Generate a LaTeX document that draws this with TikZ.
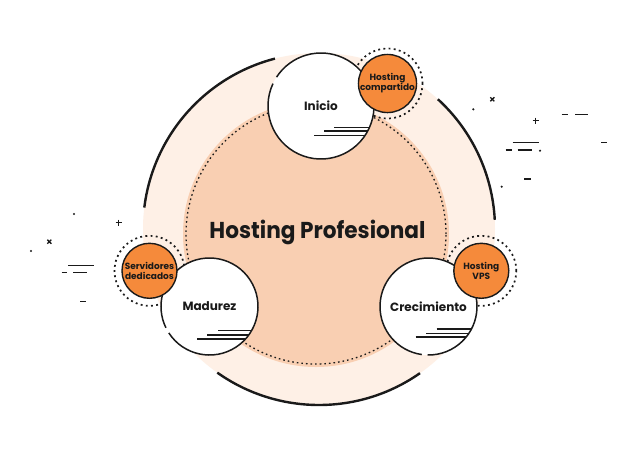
\documentclass[tikz,border=0pt]{standalone}
\usepackage{fontspec}
\setmainfont{Poppins}
\definecolor{outerc}{HTML}{FEF0E6}
\definecolor{innerc}{HTML}{F9CFB2}
\definecolor{orangec}{HTML}{F58A3B}
\definecolor{inkc}{HTML}{1A1A1A}
\begin{document}
\begin{tikzpicture}[x=1pt,y=-1pt,
  ring/.style={draw=inkc, line width=1.7pt, dash pattern=on 1.9pt off 3.3pt},
  innerdots/.style={draw=inkc, line width=1.3pt, dash pattern=on 1.6pt off 3pt},
  bigarc/.style={draw=inkc, line width=2.4pt},
  border/.style={draw=inkc, line width=1.5pt},
  stepline/.style={draw=inkc, line width=1.3pt},
  stage/.style={circle, fill=white, inner sep=0pt, font=\bfseries\fontsize{12}{14}\selectfont, text=inkc},
  tag/.style={circle, fill=orangec, draw=inkc, line width=1.4pt, inner sep=0pt, minimum size=55pt, align=center, font=\bfseries\fontsize{9}{10}\selectfont, text=inkc},
  deco/.style={draw=inkc, line width=1.3pt},
  decodot/.style={fill=inkc},
]
\useasboundingbox (0,0) rectangle (640,448);
\fill[white] (0,0) rectangle (640,448);
% outer light disc and black arcs
\coordinate (oc) at (319,229);
\fill[outerc] (oc) circle[radius=176pt];
\draw[bigarc] (oc) ++(104.5:176pt) arc[start angle=104.5, end angle=173, radius=176pt];
\draw[bigarc] (oc) ++(3:176pt) arc[start angle=3, end angle=47.5, radius=176pt];
\draw[bigarc] (oc) ++(234.7:176pt) arc[start angle=234.7, end angle=305, radius=176pt];
% inner peach disc
\coordinate (ic) at (316,234);
\fill[innerc] (ic) circle[radius=133pt];
\draw[innerdots] (ic) circle[radius=130pt];
% tag centres
\coordinate (compc) at (387.5,83.5);
\coordinate (vpsc) at (481.3,270.8);
\coordinate (servc) at (149.5,270.8);
\draw[ring] (compc) circle[radius=35pt];
\draw[ring] (vpsc) circle[radius=35pt];
\draw[ring] (servc) circle[radius=35pt];
% stage circles
\node[stage, minimum size=106pt] (ini) at (321,106) {Inicio};
\node[stage, minimum size=97pt] (mad) at (209.5,306.5) {Madurez};
\node[stage, minimum size=97pt] (cre) at (428.5,306.5) {Crecimiento};
\begin{scope}
  \clip (ini.center) circle[radius=53pt];
  \draw[stepline] (334,127.3) -- (400,127.3);
  \draw[stepline] (324,131) -- (400,131);
  \draw[stepline] (314,135.3) -- (400,135.3);
\end{scope}
\begin{scope}
  \clip (mad.center) circle[radius=48.5pt];
  \draw[stepline] (218,330.7) -- (280,330.7);
  \draw[stepline] (207,335) -- (280,335);
  \draw[stepline] (197,339) -- (280,339);
\end{scope}
\begin{scope}
  \clip (cre.center) circle[radius=48.5pt];
  \draw[stepline] (436.7,329) -- (500,329);
  \draw[stepline] (426,333.3) -- (500,333.3);
  \draw[stepline] (415.7,337) -- (500,337);
\end{scope}
\draw[border] (ini.center) ++(155:53pt) arc[start angle=155, end angle=507, radius=53pt];
\draw[border] (mad.center) ++(213:48.5pt) arc[start angle=213, end angle=566, radius=48.5pt];
\draw[border] (cre.center) ++(269:48.5pt) arc[start angle=269, end angle=622, radius=48.5pt];
% tags
\node[tag] (comp) at (compc) {Hosting\\compartido};
\node[tag] (vps) at (vpsc) {Hosting\\VPS};
\node[tag] (serv) at (servc) {Servidores\\dedicados};
% title
\node[font=\bfseries\fontsize{23}{26}\selectfont, text=inkc] (title) at (317.5,232) {\scalebox{0.94}[1]{Hosting Profesional}};
% decorations right
\fill[decodot] (473.3,109.3) circle[radius=1.2pt];
\draw[deco] (490.3,97.3) -- (494.3,101.3) (490.3,101.3) -- (494.3,97.3);
\draw[deco] (532.7,120.7) -- (538.7,120.7) (535.7,117.7) -- (535.7,123.7);
\draw[deco] (561.7,114.3) -- (568.3,114.3);
\draw[deco] (575,114.3) -- (588.3,114.3);
\draw[deco] (512.7,142.7) -- (539.3,142.7);
\draw[deco] (505.7,150) -- (511.7,150);
\draw[deco] (517.7,150) -- (531.7,150);
\fill[decodot] (540,150.7) circle[radius=1.2pt];
\draw[deco] (601,142.7) -- (607.3,142.7);
\draw[deco] (524.3,179) -- (531,179);
\fill[decodot] (501.7,186.7) circle[radius=1.2pt];
% decorations left
\fill[decodot] (74,214) circle[radius=1.2pt];
\draw[deco] (115.7,222.7) -- (121.7,222.7) (118.7,219.7) -- (118.7,225.7);
\draw[deco] (47.3,239.7) -- (51.3,243.7) (47.3,243.7) -- (51.3,239.7);
\fill[decodot] (31,251) circle[radius=1.2pt];
\draw[deco] (68.3,265.7) -- (94,265.7);
\draw[deco] (61.7,272.3) -- (66.7,272.3);
\draw[deco] (73.3,272.3) -- (86.7,272.3);
\draw[deco] (80,301.7) -- (85.7,301.7);
\end{tikzpicture}
\end{document}
